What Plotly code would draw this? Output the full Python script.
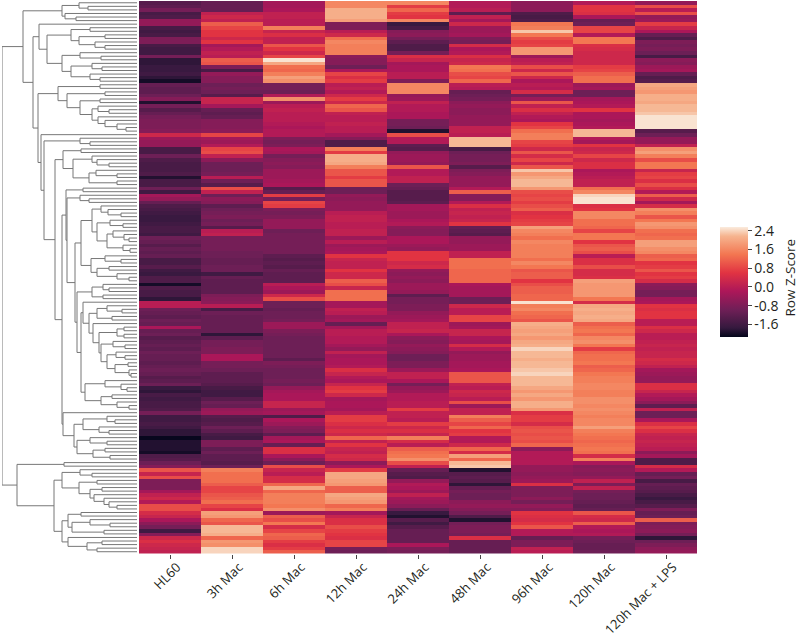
import plotly.graph_objects as go

samples = ["HL60", "3h Mac", "6h Mac", "12h Mac", "24h Mac", "48h Mac", "96h Mac", "120h Mac", "120h Mac + LPS"]
cbar_vals = [2.4, 1.6, 0.8, 0.0, -0.8, -1.6]
cbar_text = ["2.4", "1.6", "0.8", "0.0", "-0.8", "-1.6"]

hl60 = [
-1.3,-1.2,-0.9,-1.5,-1.4,-0.5,-0.5,-1.5,-1.6,-1.5,
-0.8,-0.8,-1.5,-1.6,-1.6,-0.9,-1.8,-1.8,-1.7,-1.7,
-1.6,-1.8,-2.0,-1.1,-1.2,-1.2,-1.0,-0.7,-1.9,-0.9,
-1.3,-1.1,-0.9,-0.8,-0.8,-0.8,-0.7,0.3,-0.4,-0.5,
-0.5,-1.5,-1.5,-1.0,-1.4,-1.5,-1.5,-1.5,-1.4,-1.9,
-1.5,-1.5,-1.0,-1.6,-0.3,-0.5,-1.1,-1.4,-1.5,-1.6,
-1.7,-1.7,-1.6,-1.5,-1.5,-1.6,-1.0,-1.1,-1.3,-1.1,
-1.2,-1.1,-1.5,-1.5,-1.3,-1.6,-1.7,-1.4,-1.4,-2.0,
-1.4,-1.5,-1.5,-1.8,0.0,0.0,-1.0,-1.1,-1.2,-1.0,
-1.1,-0.2,-1.1,-1.0,-1.3,-1.2,-1.1,-1.2,-1.0,-1.1,
-1.1,-1.2,-1.1,-1.0,-1.1,-1.3,-1.2,-1.0,-1.7,-1.8,
-1.5,-1.6,-1.5,-1.5,-1.4,-0.9,-1.6,-1.6,-1.5,-1.6,
-1.8,-1.8,-2.1,-1.9,-1.9,-1.9,-2.0,-1.4,-1.3,-1.0,
-0.7,1.0,0.2,0.9,-0.8,-0.8,-0.8,-0.3,0.1,0.3,
-0.1,0.9,0.9,0.4,0.2,-0.2,-0.6,-0.9,-1.6,-0.7,
0.3,0.5,0.3,0.2,0.1]
mac3h = [
-1.1,-1.1,-1.1,0.1,0.3,0.1,1.1,0.8,0.6,0.6,
0.3,0.6,-0.3,-0.1,0.1,0.0,1.1,1.0,-0.8,-1.5,
-0.5,-0.7,-0.7,-1.0,-0.9,-1.0,-1.3,0.2,0.2,-0.3,
-1.1,-1.2,-1.1,-0.7,-0.7,-0.7,-0.6,0.8,-0.3,-0.4,
-0.1,0.8,0.9,0.1,-0.6,-1.0,-1.0,-1.0,-0.9,0.0,
-1.0,-1.3,0.9,0.1,-1.0,-0.6,-0.7,-1.2,-1.0,-0.9,
-0.8,-1.0,-0.9,-1.3,0.0,0.1,-0.9,-0.9,-0.9,-0.9,
-1.0,-1.0,-1.1,-1.1,-1.0,-1.0,-1.6,-1.1,-1.2,-1.2,
-1.2,-1.2,-0.8,-0.7,-0.6,0.0,-1.5,-1.0,-1.1,-1.1,
-1.1,-1.1,-1.1,-1.8,-1.2,-0.9,-0.9,-0.8,-0.8,-0.2,
-0.2,-0.9,-0.9,-1.0,-1.2,-1.2,-1.2,-1.3,-1.5,-1.6,
-1.6,-1.3,-1.0,-1.1,-0.5,-0.4,-1.3,-1.4,-1.3,-1.0,
-1.2,-1.5,-1.6,-0.8,-0.8,-1.2,-1.0,-1.2,-1.2,-1.3,
-1.0,1.5,1.3,1.3,1.3,1.1,0.8,0.8,1.0,1.1,
1.3,0.8,0.5,1.9,1.8,1.2,1.0,2.2,2.2,2.1,
1.2,1.8,1.7,2.4,2.4]
mac6h = [
-0.3,-0.3,-0.2,0.1,0.1,0.0,0.0,1.5,0.2,0.5,
0.1,0.1,1.0,0.6,0.3,0.8,2.5,2.0,1.3,1.2,
1.5,1.9,1.7,-0.9,-0.9,-1.0,-0.1,1.7,-0.4,0.0,
0.1,0.0,0.0,0.0,-0.1,-0.2,-0.1,-0.1,-0.8,-0.9,
-0.8,-0.2,-0.3,-0.9,-0.7,-0.6,-0.7,-0.4,-0.4,-0.4,
-0.3,-0.2,-1.3,-1.1,0.7,-0.9,0.8,0.7,-0.8,-0.9,
-0.8,-0.5,-0.5,-0.5,-1.0,-0.9,-0.9,-0.9,-0.9,-0.9,
-0.9,-1.2,-1.3,-1.2,-1.3,-1.1,-1.2,-1.2,-1.2,0.0,
-0.2,-0.4,0.3,0.9,-1.0,-1.0,-1.1,-1.0,-1.0,-0.9,
-0.4,-0.4,-0.8,-0.9,-1.0,-1.0,-1.0,-1.0,-1.0,-1.0,
-1.2,-0.8,-0.9,-1.0,-1.0,-1.0,-0.9,-1.0,-0.5,-0.3,
-0.2,-0.2,0.2,0.2,-0.4,-0.3,-1.4,-0.2,-0.4,-0.7,
-0.8,-1.2,-0.3,-0.2,-1.1,0.5,0.5,-0.2,-0.6,-1.0,
0.9,0.2,0.0,0.4,0.4,1.2,2.0,1.2,1.5,1.5,
1.5,1.4,1.7,-0.4,1.1,0.9,1.4,0.4,0.8,1.2,
1.1,0.7,0.5,0.7,1.1]
mac12h = [
1.6,1.6,2.1,2.1,2.1,1.9,-0.8,-0.8,0.0,0.3,
1.3,1.6,1.5,1.5,1.5,-0.6,-0.7,-0.7,-1.0,-0.2,
0.8,0.5,0.7,0.0,0.1,-0.1,0.3,0.7,0.3,1.2,
1.0,0.1,0.0,0.0,0.1,0.0,0.0,-0.3,-0.7,-1.4,
-1.4,1.5,0.7,2.1,2.1,2.0,1.5,1.0,1.0,0.7,
1.0,1.0,-1.0,-1.0,-0.5,-0.6,-0.5,-0.5,-0.5,0.0,
0.1,0.1,0.0,0.0,0.1,0.1,-0.4,0.0,-0.4,-0.3,
-0.2,0.6,0.2,0.1,0.1,0.6,0.3,0.3,1.1,0.9,
0.2,1.3,1.3,1.3,-0.3,-0.3,0.1,0.0,-0.4,-0.3,
-1.1,-0.3,0.0,0.0,-0.1,-0.1,-0.3,-0.5,0.1,-0.3,
-0.2,-0.2,-0.1,0.5,0.2,-0.1,-0.2,0.2,0.6,0.7,
0.3,-0.3,-0.2,-0.2,-0.3,0.0,0.7,0.7,0.5,0.3,
0.5,0.3,1.2,0.1,0.6,0.2,0.1,0.4,0.3,-0.6,
-0.2,0.7,2.0,2.0,1.9,1.8,1.1,1.1,2.0,1.9,
1.8,1.2,1.5,-0.3,0.2,0.5,0.5,0.9,0.7,0.6,
0.5,0.8,0.8,-0.9,-1.0]
mac24h = [
1.6,0.7,1.2,0.7,0.6,1.6,-1.7,-1.5,-0.7,-0.6,
-0.9,-1.2,-1.4,-1.4,-0.9,0.5,0.2,-0.3,-0.2,-0.2,
0.0,0.0,-0.8,1.6,1.6,1.6,-0.5,-0.4,0.1,-0.1,
-0.1,-0.2,-0.2,-0.9,-0.9,-1.0,-1.9,0.9,-0.1,-0.1,
-1.2,-1.3,-0.5,-0.4,-0.4,-0.5,1.0,-0.1,-0.1,0.1,
0.1,-1.0,-1.1,-1.3,-1.3,-1.3,-1.2,-0.3,-0.3,-0.4,
-0.4,-0.2,-0.1,-0.6,-0.7,-0.7,-0.2,-0.2,-0.4,-0.5,
0.6,0.6,0.6,0.3,0.4,-0.5,-0.6,-0.5,-0.6,-0.4,
-0.4,-0.5,-1.2,-0.9,-0.9,-0.8,-0.8,-0.5,-0.4,-0.3,
0.1,0.1,0.2,-0.2,-0.6,-0.7,-0.5,-0.6,-0.7,-1.0,
-1.0,-0.8,-0.8,-0.4,0.1,0.1,-0.2,-0.9,-0.5,-0.4,
-0.1,-0.1,0.0,0.0,0.7,0.1,0.1,0.0,0.7,0.3,
0.5,0.2,1.5,0.4,0.0,1.1,1.3,1.4,1.7,0.9,
0.1,-1.1,-1.3,-1.4,-0.5,-0.1,-0.2,-0.4,0.1,-0.3,
-0.4,-0.6,-1.1,-1.7,-1.9,-1.3,-1.6,-1.3,-1.1,-1.1,
-1.1,-1.1,-0.2,-0.8,-0.9]
mac48h = [
-0.1,-0.1,0.0,-1.2,0.1,-0.3,0.3,-0.4,-0.4,-0.3,
-0.8,-0.9,0.4,-0.2,-0.1,0.5,0.2,0.3,1.4,1.3,
0.9,0.8,1.2,0.0,-0.1,-1.1,-1.0,-0.9,-0.6,-0.5,
-0.6,-0.6,-0.5,-0.5,-0.5,0.1,0.1,0.0,2.2,2.2,
2.2,-1.5,-1.0,-0.9,-0.9,-0.8,-1.3,-0.8,-0.7,-0.5,
-0.5,-0.5,-0.1,1.1,-0.7,-0.7,-0.1,0.5,0.1,0.2,
0.1,0.2,0.6,-1.1,-1.2,-1.3,-0.5,-0.5,-0.4,-0.4,
0.1,0.1,1.3,1.3,1.3,1.2,1.2,1.2,1.2,-0.2,
-0.3,-0.3,-0.3,-1.0,-1.0,0.3,0.0,0.0,0.8,0.8,
-0.4,-0.3,0.2,0.2,-0.2,-0.3,0.4,-0.1,-0.5,-0.4,
-0.4,-0.3,-0.3,-0.2,1.0,1.0,1.0,0.1,0.0,0.3,
0.2,0.0,0.9,-0.4,0.1,0.1,1.5,1.1,0.8,1.2,
0.6,0.7,-0.1,-0.1,0.3,1.2,0.4,1.9,1.2,2.2,
2.3,-1.9,-1.3,-1.2,-1.3,-1.8,-1.1,-0.9,-1.0,-1.0,
-0.6,-0.5,-0.7,-0.9,-1.4,-1.9,-0.9,-0.8,-0.8,-0.9,
0.5,-1.1,-1.1,-1.1,-1.1]
mac96h = [
-0.6,-0.6,-0.6,-1.4,-1.5,-1.4,1.4,1.5,2.3,1.4,
0.9,0.7,0.8,1.8,1.8,-0.4,0.0,0.1,0.9,0.3,
1.0,0.3,-0.2,0.0,-0.1,0.4,-0.9,-0.4,1.0,0.1,
0.5,0.1,-0.1,-0.2,0.6,0.8,1.3,1.5,1.5,0.8,
0.7,0.3,1.0,0.4,0.8,0.3,1.0,2.3,1.8,2.0,
2.2,2.2,1.8,0.9,0.8,0.9,0.7,0.9,1.1,0.5,
0.6,0.7,0.8,1.9,1.6,1.5,1.3,1.6,1.5,1.5,
1.5,1.5,1.3,1.6,1.4,1.0,1.1,1.1,0.6,0.9,
1.1,1.1,1.2,1.2,2.5,1.5,1.6,1.3,1.2,1.0,
2.1,2.0,1.9,2.0,1.8,2.0,2.1,2.4,2.2,2.2,
2.1,2.2,2.2,2.3,2.4,2.2,2.2,2.2,2.0,1.8,
2.0,1.8,2.1,2.1,1.8,0.5,0.7,0.7,0.4,0.9,
1.0,0.9,1.0,0.9,1.2,-0.6,-0.1,-0.1,-0.1,-0.1,
-0.5,-0.5,-0.6,-0.5,-0.4,0.5,-0.8,-0.8,-0.8,-0.6,
-0.9,-0.5,-0.7,0.6,0.5,0.4,0.6,1.0,-0.1,-0.1,
-1.1,-0.8,-0.8,0.1,0.0]
mac120h = [
-0.1,0.6,0.6,0.5,-0.2,-1.1,-1.0,0.8,0.8,-0.1,
1.4,1.4,0.5,0.4,0.3,0.3,0.3,0.3,0.7,0.8,
1.1,1.3,1.3,-0.4,-0.3,-1.0,-1.0,-0.3,-0.2,-0.1,
0.6,-0.2,-0.2,-0.3,-0.2,-0.1,2.2,2.2,-0.1,-0.3,
0.6,0.2,0.3,0.8,0.3,0.5,0.5,-0.2,-0.1,0.0,
0.1,0.1,1.3,1.6,2.4,2.5,2.5,0.5,0.6,1.6,
1.6,1.3,1.3,1.2,0.8,1.4,1.4,0.6,1.0,1.1,
0.9,0.0,0.5,0.5,0.9,0.4,0.4,0.5,1.9,1.8,
1.8,1.8,1.8,1.4,0.4,2.0,2.1,2.0,2.1,2.0,
1.1,1.3,1.4,1.2,1.6,1.7,1.4,0.7,1.2,1.3,
1.3,1.4,1.1,1.2,1.4,1.5,1.5,1.6,1.6,1.5,
1.5,1.7,1.7,1.6,1.7,1.6,1.5,1.6,1.6,1.9,
1.5,1.4,1.3,1.2,1.3,1.4,1.3,0.4,1.5,-0.2,
-0.7,-0.6,-0.7,-0.5,0.1,-0.8,0.1,-0.9,-1.0,-1.0,
-1.1,-1.2,-1.1,1.0,0.4,0.3,1.1,-0.1,-0.2,-0.1,
-0.9,-1.0,-1.1,-1.1,-1.0]
mac120h_lps = [
-0.5,0.9,0.0,0.9,-0.5,-0.4,0.7,0.2,-0.2,-1.1,
-1.4,-0.8,-0.9,-0.8,-1.0,-1.5,-0.6,-0.7,-0.4,-0.3,
-1.1,-1.4,-1.3,2.0,1.9,1.8,2.1,2.1,2.0,2.2,
2.2,2.3,2.5,2.5,2.5,2.5,-1.3,-1.0,-0.5,-0.5,
0.1,1.7,1.9,1.5,0.9,1.4,1.4,0.2,0.7,0.8,
0.5,0.9,0.5,-0.1,1.1,0.3,-0.3,0.4,1.7,1.5,
1.0,1.4,1.8,1.7,1.3,1.2,1.3,1.9,1.9,1.7,
1.6,1.1,1.2,0.6,0.7,1.0,0.6,0.7,0.4,-0.6,
-0.7,-0.9,-0.9,-0.3,-0.2,0.6,0.5,0.6,0.6,0.0,
0.0,0.5,0.3,0.0,0.0,0.1,0.2,0.1,0.2,0.2,
0.4,0.3,0.1,-0.3,-0.4,-0.5,-0.5,0.5,0.5,0.2,
-0.1,-0.3,-0.6,-1.2,0.1,-1.0,-1.0,-0.2,0.5,0.8,
0.5,0.2,0.1,0.2,0.1,0.0,-0.6,-0.3,-1.4,-1.4,
0.4,-0.1,-1.1,-0.9,-1.5,-1.1,-1.2,-1.3,-1.5,-1.7,
-1.5,-1.3,-0.8,-1.1,-1.0,1.1,-0.8,-0.7,-0.6,-0.9,
-1.8,-1.0,-0.8,-0.6,-0.5]

# Dendrogram merge tree: (merge distance, upper branch, lower branch); 0 is one row (leaf)
tree_top_a = (75,(58,0,(49,0,0)),(72,0,(61,0,0)))
tree_top_b = (98,0,(90,
    (66,(47,0,0),(58,(32,0,0),(42,0,(32,0,0)))),
    (75,(57,0,(36,0,0)),(66,(45,0,(35,0,0)),(47,0,(37,0,0))))))
tree_mid_a = (79,(37,0,0),(70,(32,0,0),(57,(37,0,0),(45,(39,0,(28,0,0)),(39,0,(32,0,(20,0,(11,0,0))))))))
tree_mid_b = (57,0,(47,0,0))
tree_mid_c = (74,(56,0,0),(64,(45,0,(40,0,(28,0,0))),(48,(41,0,(20,0,0)),(20,0,0))))
tree_u1 = (45,(36,0,(29,0,(16,0,0))),(40,(27,0,(14,0,0)),(30,(24,0,(13,0,(8,0,0))),(14,0,(7,0,0)))))
tree_u2 = (46,(32,0,(16,0,0)),(40,(28,0,0),(20,0,(8,0,0))))
tree_v_a = (45,(34,0,(28,0,0)),(34,0,0))
tree_v_b = (40,(30,0,(15,0,0)),(25,0,0))
tree_v_c = (44,0,(38,(20,(13,0,0),(13,0,0)),(36,(24,0,(12,0,0)),(30,(21,0,(12,0,0)),(22,(9,0,0),(8,0,(6,0,0)))))))
tree_v_d = (52,(32,0,(16,0,(10,0,0))),(36,(25,0,0),(20,0,(8,0,0))))
tree_y_up = (71,(54,0,0),(70,(57,0,(48,0,0)),(62,(56,tree_u1,tree_u2),
    (60,tree_v_a,(56,(54,0,(48,tree_v_b,tree_v_c)),tree_v_d)))))
tree_y_low = (74,0,(63,(54,(30,0,(22,0,0)),(38,0,(28,0,0))),(60,(47,0,(30,0,0)),(44,(32,0,0),(27,0,0)))))
tree_big = (93,tree_mid_b,(82,tree_mid_c,(75,tree_y_up,tree_y_low)))
tree_upper = (114,tree_top_a,(104,tree_top_b,(99,tree_mid_a,(96,0,tree_big))))
tree_low_a = (75,(57,0,(45,0,0)),(58,(40,0,0),(47,(35,0,0),(43,0,(33,0,(28,0,(20,0,0)))))))
tree_low_b = (75,(69,(56,0,0),(65,(47,0,(27,0,0)),(33,0,0))),(69,0,(50,(35,0,0),(40,0,0))))
tree_lower = (120,(73,0,0),(83,tree_low_a,tree_low_b))
tree_root = (135,tree_upper,tree_lower)

columns = [hl60, mac3h, mac6h, mac12h, mac24h, mac48h, mac96h, mac120h, mac120h_lps]
rows = [list(r) for r in zip(*columns)]
row_ids = list(range(len(rows)))

rocket = [
    [0.0, "#03051A"], [0.083, "#35193E"], [0.25, "#701F57"], [0.417, "#AD1759"],
    [0.583, "#E13342"], [0.75, "#F37651"], [0.917, "#F6B48F"], [1.0, "#FAEBDD"],
]

W, H = 800, 640
FONT = "Open Sans"
TEXT = "#231f20"

fig = go.Figure()
fig.add_trace(go.Heatmap(
    z=rows, x=samples, y=row_ids, colorscale=rocket, zmin=-2.14, zmax=2.56,
    xaxis="x", yaxis="y", hoverongaps=False,
    colorbar=dict(
        x=720 / W, xanchor="left", xpad=0, ypad=0,
        y=1 - 282 / H, yanchor="middle",
        thickness=28, thicknessmode="pixels",
        len=110, lenmode="pixels",
        outlinewidth=0, tickmode="array", tickvals=cbar_vals, ticktext=cbar_text,
        ticks="outside", ticklen=4, tickwidth=1, tickcolor="#444",
        tickfont=dict(family=FONT, size=14, color=TEXT),
    ),
))

xs, ys = [], []
counter = [0]
def walk(node):
    if node == 0:
        counter[0] += 1
        return counter[0] - 1, 0
    d, up, low = node
    y1, d1 = walk(up)
    y2, d2 = walk(low)
    xs.extend([d1, d, d, d2, None])
    ys.extend([y1, y1, y2, y2, None])
    return (y1 + y2) / 2, d
walk(tree_root)

fig.add_trace(go.Scatter(
    x=xs, y=ys, mode="lines", line=dict(color="#777777", width=1),
    xaxis="x2", yaxis="y2", hoverinfo="skip", showlegend=False,
))

fig.update_layout(
    width=W, height=H, margin=dict(l=0, r=0, t=0, b=0, autoexpand=False),
    paper_bgcolor="white", plot_bgcolor="white",
    font=dict(family=FONT, color=TEXT),
    showlegend=False,
    xaxis=dict(
        domain=[139 / W, 697 / W], anchor="y", type="category",
        tickangle=-45, ticks="outside", ticklen=4, tickwidth=1, tickcolor="#444",
        ticklabelshift=7, ticklabelstandoff=-4,
        tickfont=dict(family=FONT, size=13, color=TEXT), showgrid=False, zeroline=False,
    ),
    yaxis=dict(
        domain=[1 - 553.5 / H, 1 - 1 / H], anchor="x", autorange="reversed",
        showticklabels=False, ticks="", showgrid=False, zeroline=False,
    ),
    xaxis2=dict(
        domain=[2 / W, 137 / W], anchor="y2", range=[135, 0],
        visible=False,
    ),
    yaxis2=dict(
        domain=[1 - 553.5 / H, 1 - 1 / H], anchor="x2", range=[len(rows) - 0.5, -0.5],
        visible=False,
    ),
    annotations=[dict(
        text="Row Z-Score", xref="paper", yref="paper",
        x=789.5 / W, y=1 - 278 / H, xanchor="center", yanchor="middle",
        textangle=-90, showarrow=False, borderpad=0,
        font=dict(family=FONT, size=13.5, color=TEXT),
    )],
)

fig.write_html(
    "out.html",
    config={"displayModeBar": False},
    post_script="document.body.style.margin='0';document.body.style.overflow='hidden';",
)
